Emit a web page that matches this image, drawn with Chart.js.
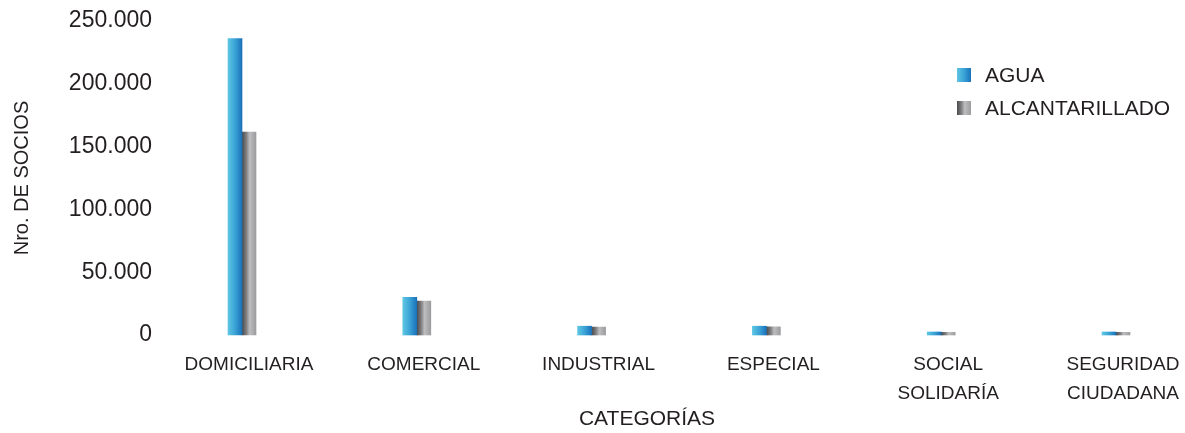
<!DOCTYPE html>
<html lang="es">
<head>
    <meta charset="UTF-8">
    <title>Socios por categoría</title>
    <script src="https://cdn.jsdelivr.net/npm/chart.js"></script>
    <style>
        body { margin: 0; padding: 0; background: #ffffff; overflow: hidden; }
        #wrap { width: 1185px; height: 433px; position: relative; }
    </style>
</head>
<body>
    <div id="wrap"><canvas id="grafico"></canvas></div>

    <script>
        // Datos
        const categorias = ['DOMICILIARIA', 'COMERCIAL', 'INDUSTRIAL', 'ESPECIAL', ['SOCIAL', 'SOLIDARÍA'], ['SEGURIDAD', 'CIUDADANA']];
        const agua = [236000, 30000, 7000, 7000, 2400, 2400];
        const alcantarillado = [161500, 27000, 6300, 6500, 2100, 2100];
        const yTickValues = [0, 50000, 100000, 150000, 200000, 250000];
        const yTickLabels = ['0', '50.000', '100.000', '150.000', '200.000', '250.000'];
        const tituloX = 'CATEGORÍAS';

        const TEXTO = '#231f20';
        const FUENTE = "'Liberation Sans', Arial, sans-serif";
        const BAR_W = 14;

        // colores de degradado horizontal de cada serie
        const stopsAgua = [[0, '#5ec6e2'], [0.5, '#3aa3d6'], [1, '#1a72ba']];
        const stopsAlc = [[0, '#4a4a4c'], [0.3, '#7d7d7f'], [0.55, '#bdbdbf'], [1, '#9c9c9e']];

        function degradado(ctx, x0, stops) {
            const g = ctx.createLinearGradient(x0, 0, x0 + BAR_W, 0);
            stops.forEach(s => g.addColorStop(s[0], s[1]));
            return g;
        }

        function colorBarra(stops, lado) {
            return function(c) {
                const plano = stops[stops.length - 1][1];
                if (c.type !== 'data') return plano;
                const xs = c.chart.scales.x;
                if (!xs) return plano;
                const centro = xs.getPixelForValue(c.dataIndex);
                if (!isFinite(centro)) return plano;
                return degradado(c.chart.ctx, centro + lado * BAR_W, stops);
            };
        }

        // leyenda a la derecha y título del eje X (algo a la izquierda del centro)
        const leyenda = {
            id: 'leyenda',
            afterDraw(chart) {
                const ctx = chart.ctx;
                const items = [
                    { texto: chart.data.datasets[0].label, stops: stopsAgua, y: 68 },
                    { texto: chart.data.datasets[1].label, stops: stopsAlc, y: 101 }
                ];
                ctx.save();
                ctx.font = '21px ' + FUENTE;
                ctx.textBaseline = 'middle';
                items.forEach(it => {
                    const g = ctx.createLinearGradient(957, 0, 971, 0);
                    it.stops.forEach(s => g.addColorStop(s[0], s[1]));
                    ctx.fillStyle = g;
                    ctx.fillRect(957, it.y, 14, 14);
                    ctx.fillStyle = TEXTO;
                    ctx.fillText(it.texto, 985, it.y + 8);
                });
                ctx.textAlign = 'center';
                ctx.fillText(tituloX, 647, 419);
                ctx.restore();
            }
        };

        const ctx = document.getElementById('grafico').getContext('2d');
        const grafico = new Chart(ctx, {
            type: 'bar',
            data: {
                labels: categorias,
                datasets: [{
                    label: 'AGUA',
                    data: agua,
                    backgroundColor: colorBarra(stopsAgua, -1),
                    barThickness: BAR_W,
                    clip: false
                }, {
                    label: 'ALCANTARILLADO',
                    data: alcantarillado,
                    backgroundColor: colorBarra(stopsAlc, 0),
                    barThickness: BAR_W,
                    clip: false
                }]
            },
            options: {
                responsive: true,
                maintainAspectRatio: false,
                animation: false,
                layout: { padding: { left: 0, right: 69, top: 21, bottom: 0 } },
                plugins: {
                    legend: { display: false },
                    tooltip: { enabled: false }
                },
                scales: {
                    x: {
                        offset: false,
                        grid: { display: false, drawTicks: false },
                        border: { display: false },
                        afterFit: s => {
                            s.height = 98;
                            s.paddingLeft = 0;
                            s.paddingRight = 0;
                        },
                        ticks: {
                            color: TEXTO,
                            font: { family: FUENTE, size: 19, lineHeight: 1.53 },
                            padding: 15,
                            labelOffset: 7,
                            autoSkip: false,
                            maxRotation: 0
                        }
                    },
                    y: {
                        min: 0,
                        max: 250000,
                        grid: { display: false, drawTicks: false },
                        border: { display: false },
                        afterFit: s => {
                            s.width = 242;
                            s.paddingTop = 10;
                            s.paddingBottom = 10;
                        },
                        ticks: {
                            stepSize: 50000,
                            color: TEXTO,
                            font: { family: FUENTE, size: 23 },
                            padding: 90,
                            callback: v => yTickLabels[yTickValues.indexOf(v)]
                        },
                        title: {
                            display: true,
                            text: 'Nro. DE SOCIOS',
                            color: TEXTO,
                            font: { family: FUENTE, size: 20 },
                            padding: { top: 10, bottom: 0 }
                        }
                    }
                }
            },
            plugins: [leyenda]
        });
        grafico.update();
    </script>
</body>
</html>
